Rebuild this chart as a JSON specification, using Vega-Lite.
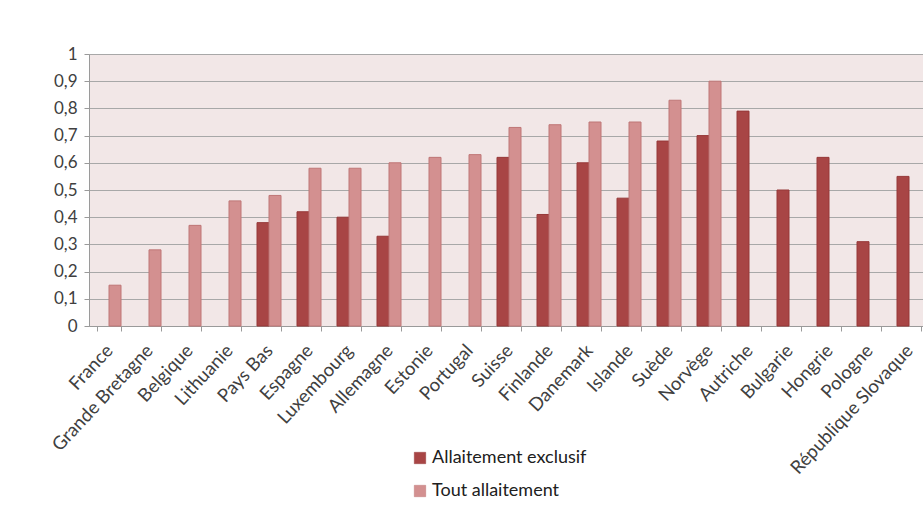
{
  "$schema": "https://vega.github.io/schema/vega-lite/v6.json",
  "autosize": {"type": "none"},
  "width": 840,
  "height": 272,
  "padding": {"left": 89, "top": 54, "right": 0, "bottom": 182},
  "background": "white",
  "data": {"values": [
    {"pays": "France", "serie": "Allaitement exclusif", "v": null},
    {"pays": "France", "serie": "Tout allaitement", "v": 0.15},
    {"pays": "Grande Bretagne", "serie": "Tout allaitement", "v": 0.28},
    {"pays": "Belgique", "serie": "Tout allaitement", "v": 0.37},
    {"pays": "Lithuanie", "serie": "Tout allaitement", "v": 0.46},
    {"pays": "Pays Bas", "serie": "Allaitement exclusif", "v": 0.38},
    {"pays": "Pays Bas", "serie": "Tout allaitement", "v": 0.48},
    {"pays": "Espagne", "serie": "Allaitement exclusif", "v": 0.42},
    {"pays": "Espagne", "serie": "Tout allaitement", "v": 0.58},
    {"pays": "Luxembourg", "serie": "Allaitement exclusif", "v": 0.40},
    {"pays": "Luxembourg", "serie": "Tout allaitement", "v": 0.58},
    {"pays": "Allemagne", "serie": "Allaitement exclusif", "v": 0.33},
    {"pays": "Allemagne", "serie": "Tout allaitement", "v": 0.60},
    {"pays": "Estonie", "serie": "Tout allaitement", "v": 0.62},
    {"pays": "Portugal", "serie": "Tout allaitement", "v": 0.63},
    {"pays": "Suisse", "serie": "Allaitement exclusif", "v": 0.62},
    {"pays": "Suisse", "serie": "Tout allaitement", "v": 0.73},
    {"pays": "Finlande", "serie": "Allaitement exclusif", "v": 0.41},
    {"pays": "Finlande", "serie": "Tout allaitement", "v": 0.74},
    {"pays": "Danemark", "serie": "Allaitement exclusif", "v": 0.60},
    {"pays": "Danemark", "serie": "Tout allaitement", "v": 0.75},
    {"pays": "Islande", "serie": "Allaitement exclusif", "v": 0.47},
    {"pays": "Islande", "serie": "Tout allaitement", "v": 0.75},
    {"pays": "Suède", "serie": "Allaitement exclusif", "v": 0.68},
    {"pays": "Suède", "serie": "Tout allaitement", "v": 0.83},
    {"pays": "Norvège", "serie": "Allaitement exclusif", "v": 0.70},
    {"pays": "Norvège", "serie": "Tout allaitement", "v": 0.90},
    {"pays": "Autriche", "serie": "Allaitement exclusif", "v": 0.79},
    {"pays": "Bulgarie", "serie": "Allaitement exclusif", "v": 0.50},
    {"pays": "Hongrie", "serie": "Allaitement exclusif", "v": 0.62},
    {"pays": "Pologne", "serie": "Allaitement exclusif", "v": 0.31},
    {"pays": "République Slovaque", "serie": "Allaitement exclusif", "v": 0.55}
  ]},
  "mark": {"type": "bar", "strokeWidth": 1},
  "encoding": {
    "x": {
      "field": "pays", "type": "nominal", "sort": null,
      "scale": {"paddingInner": 0.4, "paddingOuter": 0.2},
      "axis": {
        "title": null, "labelAngle": -47, "labelAlign": "right", "labelBaseline": "middle",
        "labelFont": "Lato", "labelFontSize": 18.5, "labelColor": "#404040",
        "labelPadding": 16, "tickBand": "extent", "tickSize": 5, "tickColor": "#9a9a9a",
        "domainColor": "#9a9a9a", "grid": false, "labelOverlap": false
      }
    },
    "xOffset": {"field": "serie", "type": "nominal", "sort": ["Allaitement exclusif", "Tout allaitement"], "scale": {"paddingInner": 0, "paddingOuter": 0}},
    "y": {
      "field": "v", "type": "quantitative",
      "scale": {"domain": [0, 1], "nice": false},
      "axis": {
        "title": null, "values": [0, 0.1, 0.2, 0.3, 0.4, 0.5, 0.6, 0.7, 0.8, 0.9, 1],
        "labelExpr": "replace(format(datum.value, '.1~f'), '.', ',')",
        "labelFont": "Lato", "labelFontSize": 17, "labelColor": "#404040",
        "labelPadding": 7, "tickSize": 5, "tickColor": "#9a9a9a", "domainColor": "#9a9a9a",
        "grid": true, "gridColor": "#a8a8a8", "gridWidth": 1, "labelOverlap": false
      }
    },
    "color": {
      "field": "serie", "type": "nominal",
      "scale": {"domain": ["Allaitement exclusif", "Tout allaitement"], "range": ["#a84545", "#d39090"]},
      "legend": {
        "title": null, "orient": "none", "legendX": 322, "legendY": 395, "direction": "vertical",
        "symbolType": "square", "symbolSize": 130, "symbolStrokeColor": "#8a3030", "symbolStrokeWidth": 0.5,
        "labelFont": "Lato", "labelFontSize": 18, "labelColor": "#202020", "rowPadding": 15, "labelOffset": 3
      }
    },
    "stroke": {
      "field": "serie", "type": "nominal",
      "scale": {"domain": ["Allaitement exclusif", "Tout allaitement"], "range": ["#963838", "#bf7676"]},
      "legend": null
    }
  },
  "config": {
    "view": {"fill": "#f2e7e7", "stroke": "#c8c8c8"}
  }
}
